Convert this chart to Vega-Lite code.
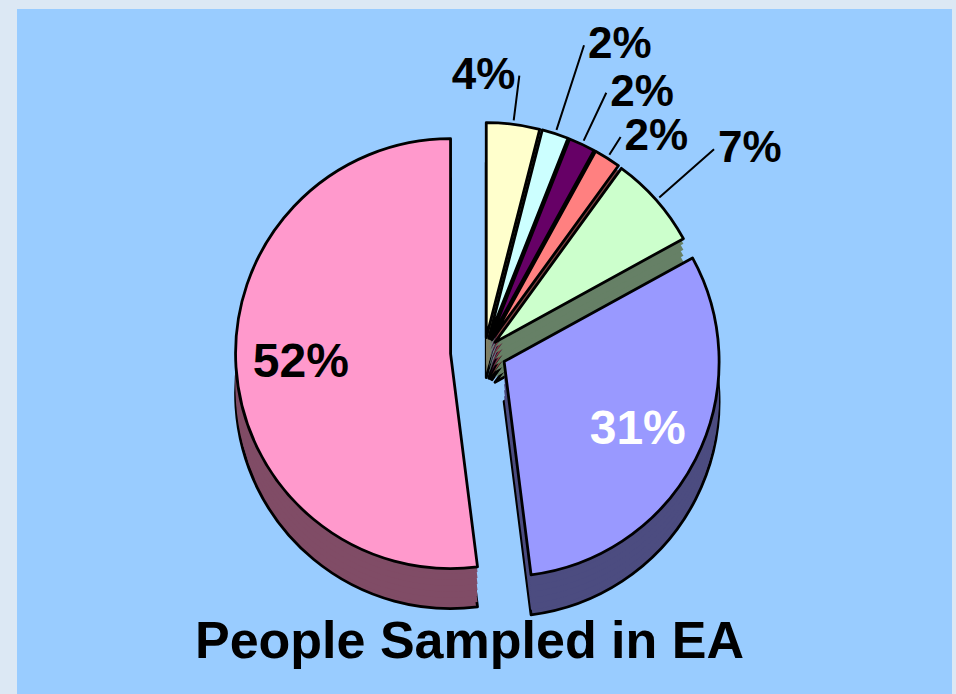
{
  "$schema": "https://vega.github.io/schema/vega-lite/v6.json",
  "description": "Exploded 3-D style pie of the people sampled in EA, walls built from stacked offset copies of each slice.",
  "width": 956,
  "height": 694,
  "autosize": {"type": "fit", "contains": "padding"},
  "padding": {"left": 17, "top": 9, "right": 4, "bottom": 0},
  "background": "#dce8f4",
  "view": {"fill": "#99CCFF", "stroke": "#99CCFF", "strokeWidth": 0},
  "title": {
    "text": "People Sampled in EA",
    "orient": "bottom",
    "frame": "group",
    "anchor": "middle",
    "offset": -36,
    "dx": -15,
    "baseline": "alphabetic",
    "font": "Liberation Sans",
    "fontSize": 52,
    "fontWeight": "bold",
    "color": "black"
  },
  "data": {
    "values": [
      {"segment": "A", "pct": 0.04},
      {"segment": "B", "pct": 0.02},
      {"segment": "C", "pct": 0.02},
      {"segment": "D", "pct": 0.02},
      {"segment": "E", "pct": 0.07},
      {"segment": "F", "pct": 0.31},
      {"segment": "G", "pct": 0.52}
    ]
  },
  "transform": [
    {"stack": "pct", "groupby": [], "sort": [{"field": "segment", "order": "ascending"}], "as": ["p0", "p1"]}
  ],
  "layer": [
    {
      "mark": {"type": "arc", "radius": 215, "stroke": "black", "strokeWidth": 2.8, "strokeJoin": "round",
        "xOffset": {"expr": "(datum.segment === 'G' ? 34 : datum.segment === 'F' ? 22 : 14) * sin(PI * (datum.p0 + datum.p1))"},
        "yOffset": {"expr": "40 - (datum.segment === 'G' ? 34 : datum.segment === 'F' ? 22 : 14) * cos(PI * (datum.p0 + datum.p1))"}},
      "encoding": {
        "theta": {"field": "p0", "type": "quantitative", "stack": null, "scale": {"domain": [0, 1]}},
        "theta2": {"field": "p1"},
        "fill": {"field": "segment", "type": "nominal", "legend": null,
          "scale": {"domain": ["A", "B", "C", "D", "E", "F", "G"], "range": ["#808066", "#668080", "#330033", "#804040", "#668066", "#4C4C80", "#804C66"]}}
      }
    },
    {
      "mark": {"type": "arc", "radius": 215,
        "xOffset": {"expr": "(datum.segment === 'G' ? 34 : datum.segment === 'F' ? 22 : 14) * sin(PI * (datum.p0 + datum.p1))"},
        "yOffset": {"expr": "35 - (datum.segment === 'G' ? 34 : datum.segment === 'F' ? 22 : 14) * cos(PI * (datum.p0 + datum.p1))"}},
      "encoding": {
        "theta": {"field": "p0", "type": "quantitative", "stack": null, "scale": {"domain": [0, 1]}},
        "theta2": {"field": "p1"},
        "fill": {"field": "segment", "type": "nominal", "legend": null}
      }
    },
    {
      "mark": {"type": "arc", "radius": 215,
        "xOffset": {"expr": "(datum.segment === 'G' ? 34 : datum.segment === 'F' ? 22 : 14) * sin(PI * (datum.p0 + datum.p1))"},
        "yOffset": {"expr": "29 - (datum.segment === 'G' ? 34 : datum.segment === 'F' ? 22 : 14) * cos(PI * (datum.p0 + datum.p1))"}},
      "encoding": {
        "theta": {"field": "p0", "type": "quantitative", "stack": null, "scale": {"domain": [0, 1]}},
        "theta2": {"field": "p1"},
        "fill": {"field": "segment", "type": "nominal", "legend": null}
      }
    },
    {
      "mark": {"type": "arc", "radius": 215,
        "xOffset": {"expr": "(datum.segment === 'G' ? 34 : datum.segment === 'F' ? 22 : 14) * sin(PI * (datum.p0 + datum.p1))"},
        "yOffset": {"expr": "23 - (datum.segment === 'G' ? 34 : datum.segment === 'F' ? 22 : 14) * cos(PI * (datum.p0 + datum.p1))"}},
      "encoding": {
        "theta": {"field": "p0", "type": "quantitative", "stack": null, "scale": {"domain": [0, 1]}},
        "theta2": {"field": "p1"},
        "fill": {"field": "segment", "type": "nominal", "legend": null}
      }
    },
    {
      "mark": {"type": "arc", "radius": 215,
        "xOffset": {"expr": "(datum.segment === 'G' ? 34 : datum.segment === 'F' ? 22 : 14) * sin(PI * (datum.p0 + datum.p1))"},
        "yOffset": {"expr": "17 - (datum.segment === 'G' ? 34 : datum.segment === 'F' ? 22 : 14) * cos(PI * (datum.p0 + datum.p1))"}},
      "encoding": {
        "theta": {"field": "p0", "type": "quantitative", "stack": null, "scale": {"domain": [0, 1]}},
        "theta2": {"field": "p1"},
        "fill": {"field": "segment", "type": "nominal", "legend": null}
      }
    },
    {
      "mark": {"type": "arc", "radius": 215,
        "xOffset": {"expr": "(datum.segment === 'G' ? 34 : datum.segment === 'F' ? 22 : 14) * sin(PI * (datum.p0 + datum.p1))"},
        "yOffset": {"expr": "11 - (datum.segment === 'G' ? 34 : datum.segment === 'F' ? 22 : 14) * cos(PI * (datum.p0 + datum.p1))"}},
      "encoding": {
        "theta": {"field": "p0", "type": "quantitative", "stack": null, "scale": {"domain": [0, 1]}},
        "theta2": {"field": "p1"},
        "fill": {"field": "segment", "type": "nominal", "legend": null}
      }
    },
    {
      "mark": {"type": "arc", "radius": 215,
        "xOffset": {"expr": "(datum.segment === 'G' ? 34 : datum.segment === 'F' ? 22 : 14) * sin(PI * (datum.p0 + datum.p1))"},
        "yOffset": {"expr": "5 - (datum.segment === 'G' ? 34 : datum.segment === 'F' ? 22 : 14) * cos(PI * (datum.p0 + datum.p1))"}},
      "encoding": {
        "theta": {"field": "p0", "type": "quantitative", "stack": null, "scale": {"domain": [0, 1]}},
        "theta2": {"field": "p1"},
        "fill": {"field": "segment", "type": "nominal", "legend": null}
      }
    },
    {
      "mark": {"type": "arc", "radius": 215, "stroke": "black", "strokeWidth": 2.8, "strokeJoin": "round",
        "xOffset": {"expr": "(datum.segment === 'G' ? 34 : datum.segment === 'F' ? 22 : 14) * sin(PI * (datum.p0 + datum.p1))"},
        "yOffset": {"expr": "0 - (datum.segment === 'G' ? 34 : datum.segment === 'F' ? 22 : 14) * cos(PI * (datum.p0 + datum.p1))"}},
      "encoding": {
        "theta": {"field": "p0", "type": "quantitative", "stack": null, "scale": {"domain": [0, 1]}},
        "theta2": {"field": "p1"},
        "color": {"field": "segment", "type": "nominal", "legend": null,
          "scale": {"domain": ["A", "B", "C", "D", "E", "F", "G"], "range": ["#FFFFCC", "#CCFFFF", "#660066", "#FF8080", "#CCFFCC", "#9999FF", "#FF99CC"]}}
      }
    },
    {
      "transform": [{"filter": "datum.pct < 0.1"}],
      "mark": {"type": "arc", "filled": false, "padAngle": 3, "stroke": "black", "strokeWidth": 2,
        "radius2": 219,
        "radius": {"expr": "datum.segment === 'A' ? 264 : datum.segment === 'B' ? 308 : datum.segment === 'C' ? 272 : datum.segment === 'D' ? 240 : 292"},
        "xOffset": {"expr": "14 * sin(PI * (datum.p0 + datum.p1))"},
        "yOffset": {"expr": "-14 * cos(PI * (datum.p0 + datum.p1))"}},
      "encoding": {
        "theta": {"field": "p0", "type": "quantitative", "stack": null, "scale": {"domain": [0, 1]}},
        "theta2": {"field": "p1"}
      }
    },
    {
      "mark": {"type": "text", "font": "Liberation Sans", "fontWeight": "bold", "fontSize": 44, "color": "black",
        "baseline": "middle",
        "radius": {"expr": "datum.segment === 'A' ? 264 : datum.segment === 'B' ? 308 : datum.segment === 'C' ? 272 : datum.segment === 'D' ? 240 : 292"},
        "align": {"expr": "datum.segment === 'A' ? 'right' : 'left'"},
        "xOffset": {"expr": "14 * sin(PI * (datum.p0 + datum.p1)) + (datum.segment === 'A' ? -4 : 4)"},
        "yOffset": {"expr": "-14 * cos(PI * (datum.p0 + datum.p1))"}},
      "encoding": {
        "theta": {"field": "pct", "type": "quantitative", "stack": true, "scale": {"domain": [0, 1]}},
        "order": {"field": "p0", "type": "quantitative"},
        "text": {"condition": {"test": "datum.pct < 0.1", "field": "pct", "type": "quantitative", "format": ".0%"}, "value": ""}
      }
    },
    {
      "mark": {"type": "text", "font": "Liberation Sans", "fontWeight": "bold", "fontSize": 48,
        "baseline": "middle", "align": "center", "radius": 150,
        "fill": {"expr": "datum.segment === 'F' ? 'white' : 'black'"},
        "xOffset": {"expr": "(datum.segment === 'G' ? 34 : datum.segment === 'F' ? 22 : 14) * sin(PI * (datum.p0 + datum.p1))"},
        "yOffset": {"expr": "-(datum.segment === 'G' ? 34 : datum.segment === 'F' ? 22 : 14) * cos(PI * (datum.p0 + datum.p1))"}},
      "encoding": {
        "theta": {"field": "pct", "type": "quantitative", "stack": true, "scale": {"domain": [0, 1]}},
        "order": {"field": "p0", "type": "quantitative"},
        "text": {"condition": {"test": "datum.pct > 0.2", "field": "pct", "type": "quantitative", "format": ".0%"}, "value": ""}
      }
    }
  ]
}
